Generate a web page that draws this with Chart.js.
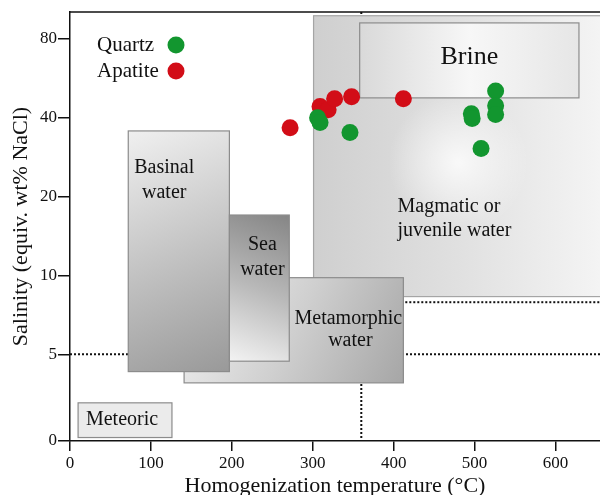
<!DOCTYPE html>
<html>
<head>
<meta charset="utf-8">
<script src="https://cdn.jsdelivr.net/npm/chart.js@4.4.0/dist/chart.umd.min.js"></script>
<style>
  html, body { margin: 0; padding: 0; background: #fff; overflow: hidden; }
  canvas { display: block; }
</style>
</head>
<body>
<canvas id="chart" width="600" height="495"></canvas>
<script>
// fluid inclusion data (temp in C, salinity in wt% NaCl)
const quartzTemp = [306, 309, 346, 496, 497, 526, 526, 526, 508];
const quartzSal = [40.0, 38.3, 35.1, 41.4, 39.7, 50.6, 44.4, 41.1, 30.5];
const apatiteTemp = [272, 309, 319, 327, 348, 412];
const apatiteSal = [36.6, 44.1, 42.9, 47.2, 48.1, 47.2];

// fluid source fields
const fieldNames = ['Magmatic', 'Brine', 'Metamorphic', 'Basinal', 'Sea', 'Meteoric'];
const fieldTmin = [301, 358, 141, 72, 197, 10];
const fieldTmax = [700, 629, 412, 197, 271, 126];
const fieldSmin = [8.3, 47.6, 3.35, 4.0, 4.6, 0.2];
const fieldSmax = [98, 92, 9.8, 35.6, 17, 2.2];

// dotted guide lines
const guideTemp = [360];
const guideSal = [5, 7.9];
const guideSalFrom = [0, 360];

const tempTicks = [0, 100, 200, 300, 400, 500, 600];
const salTicks = [0, 5, 10, 20, 40, 80];

const serif = "'Liberation Serif', 'Times New Roman', serif";

// salinity axis is linear up to 5 then doubles every step
function lvl(s) {
  return s <= 5 ? s / 5 * 1.1 : 1.1 + Math.log2(s / 5);
}

const look = {
  Magmatic: { dir: 'h', stops: ['#cfcfcf', '#e0e0e0', '#f4f4f4'], edge: '#a5a5a5' },
  Brine: { dir: 'h', stops: ['#d9d9d9', '#f7f7f7', '#e6e6e6'], edge: '#8c8c8c' },
  Metamorphic: { dir: 'd', stops: ['#f2f2f2', '#cfcfcf', '#a6a6a6'], edge: '#8c8c8c' },
  Basinal: { dir: 'd', stops: ['#f0f0f0', '#c4c4c4', '#999999'], edge: '#8c8c8c' },
  Sea: { dir: 'u', stops: ['#f3f3f3', '#b8b8b8', '#858585'], edge: '#8c8c8c' },
  Meteoric: { dir: 'h', stops: ['#ebebeb', '#ebebeb', '#ebebeb'], edge: '#8c8c8c' }
};

// text inside each field, placed from the field's pixel box
const labels = {
  Magmatic: { size: 20, align: 'left', at: r => [[r.l + 84, r.t + 191], [r.l + 84, r.t + 215]], text: ['Magmatic or', 'juvenile water'] },
  Brine: { size: 26, align: 'center', at: r => [[(r.l + r.r) / 2, r.t + 34]], text: ['Brine'] },
  Metamorphic: { size: 20, align: 'center', at: r => [[r.r - 55, r.t + 41], [r.r - 53, r.t + 63]], text: ['Metamorphic', 'water'] },
  Basinal: { size: 20, align: 'center', at: r => [[r.l + 36, r.t + 37], [r.l + 36, r.t + 62]], text: ['Basinal', 'water'] },
  Sea: { size: 20, align: 'center', at: r => [[(r.l + r.r) / 2 + 3, r.t + 30], [(r.l + r.r) / 2 + 3, r.t + 55]], text: ['Sea', 'water'] },
  Meteoric: { size: 20, align: 'center', at: r => [[(r.l + r.r) / 2 - 3, (r.t + r.b) / 2]], text: ['Meteoric'] }
};

const fieldPlugin = {
  id: 'fields',
  beforeDatasetsDraw(chart) {
    const { ctx, chartArea: a, scales: { x, y } } = chart;
    ctx.save();
    ctx.beginPath();
    ctx.rect(a.left, a.top - 1, a.right - a.left, a.bottom - a.top + 1);
    ctx.clip();

    // dotted guides behind everything
    ctx.setLineDash([2, 2]);
    ctx.lineWidth = 2;
    ctx.strokeStyle = '#111';
    guideTemp.forEach(t => {
      const px = x.getPixelForValue(t);
      ctx.beginPath(); ctx.moveTo(px, a.top); ctx.lineTo(px, a.bottom); ctx.stroke();
    });
    guideSal.forEach((s, i) => {
      const py = y.getPixelForValue(lvl(s));
      ctx.beginPath(); ctx.moveTo(x.getPixelForValue(guideSalFrom[i]), py); ctx.lineTo(a.right, py); ctx.stroke();
    });
    ctx.setLineDash([]);

    fieldNames.forEach((name, i) => {
      const r = {
        l: x.getPixelForValue(fieldTmin[i]), r: x.getPixelForValue(fieldTmax[i]),
        t: y.getPixelForValue(lvl(fieldSmax[i])), b: y.getPixelForValue(lvl(fieldSmin[i]))
      };
      const st = look[name];
      let g;
      if (st.dir === 'h') g = ctx.createLinearGradient(r.l, 0, Math.min(r.r, a.right), 0);
      else if (st.dir === 'd') g = ctx.createLinearGradient(r.l, r.t, r.r, r.b);
      else g = ctx.createLinearGradient(r.l, r.b, r.r, r.t);
      st.stops.forEach((c, k) => g.addColorStop(k / (st.stops.length - 1), c));
      ctx.fillStyle = g;
      ctx.fillRect(r.l, r.t, r.r - r.l, r.b - r.t);
      if (name === 'Magmatic') {
        // soft highlight in the middle of the field
        const cx = x.getPixelForValue(480), cy = y.getPixelForValue(lvl(27));
        const rg = ctx.createRadialGradient(cx, cy, 0, cx, cy, 70);
        rg.addColorStop(0, 'rgba(255,255,255,0.8)');
        rg.addColorStop(1, 'rgba(255,255,255,0)');
        ctx.fillStyle = rg;
        ctx.fillRect(r.l, r.t, r.r - r.l, r.b - r.t);
      }
      ctx.lineWidth = 1.2;
      ctx.strokeStyle = st.edge;
      ctx.strokeRect(r.l, r.t, r.r - r.l, r.b - r.t);

      const lb = labels[name];
      ctx.fillStyle = '#111';
      ctx.font = lb.size + 'px ' + serif;
      ctx.textAlign = lb.align;
      ctx.textBaseline = 'middle';
      lb.at(r).forEach((p, k) => ctx.fillText(lb.text[k], p[0], p[1]));
    });
    ctx.restore();
  },
  afterDraw(chart) {
    const { ctx, chartArea: a } = chart;
    ctx.save();
    // top frame line
    ctx.strokeStyle = '#111';
    ctx.lineWidth = 1.5;
    ctx.beginPath(); ctx.moveTo(a.left, a.top); ctx.lineTo(a.right, a.top); ctx.stroke();

    // legend: name then dot
    chart.data.datasets.forEach((ds, i) => {
      const yy = a.top + 33 + i * 26;
      ctx.font = '21px ' + serif;
      ctx.fillStyle = '#111';
      ctx.textAlign = 'left';
      ctx.textBaseline = 'middle';
      ctx.fillText(ds.label, a.left + 27, yy);
      ctx.beginPath();
      ctx.arc(a.left + 106, yy, 8.5, 0, Math.PI * 2);
      ctx.fillStyle = ds.backgroundColor;
      ctx.fill();
    });
    ctx.restore();
  }
};

const ctx = document.getElementById('chart').getContext('2d');
new Chart(ctx, {
  type: 'scatter',
  data: {
    datasets: [
      {
        label: 'Quartz',
        data: quartzTemp.map((t, i) => ({ x: t, y: lvl(quartzSal[i]) })),
        backgroundColor: '#12962f',
        pointRadius: 8.5,
        borderWidth: 0
      },
      {
        label: 'Apatite',
        data: apatiteTemp.map((t, i) => ({ x: t, y: lvl(apatiteSal[i]) })),
        backgroundColor: '#d20d17',
        pointRadius: 8.5,
        borderWidth: 0
      }
    ]
  },
  options: {
    responsive: false,
    animation: false,
    layout: { autoPadding: false, padding: { top: 12, right: 0, left: 0, bottom: 0 } },
    plugins: { legend: { display: false }, tooltip: { enabled: false } },
    scales: {
      x: {
        type: 'linear',
        min: 0,
        max: 655,
        afterBuildTicks: s => { s.ticks = tempTicks.map(v => ({ value: v })); },
        afterFit: s => { s.height = 54; s.paddingRight = 0; s.paddingLeft = 0; },
        grid: { drawOnChartArea: false, drawTicks: true, tickLength: 10, tickColor: '#111', lineWidth: 1.5 },
        border: { color: '#111', width: 1.5 },
        ticks: { color: '#111', font: { family: serif, size: 17 }, padding: 2, maxRotation: 0 },
        title: { display: true, text: 'Homogenization temperature (\u00B0C)', color: '#111', font: { family: serif, size: 22, lineHeight: 1 }, padding: { top: 0, bottom: -2 } }
      },
      y: {
        type: 'linear',
        min: 0,
        max: 5.44,
        afterBuildTicks: s => { s.ticks = salTicks.map(v => ({ value: lvl(v) })); },
        afterFit: s => { s.width = 70; s.paddingTop = 0; s.paddingBottom = 0; },
        grid: { drawOnChartArea: false, drawTicks: true, tickLength: 12, tickColor: '#111', lineWidth: 1.5 },
        border: { color: '#111', width: 1.5 },
        ticks: { color: '#111', font: { family: serif, size: 17 }, padding: 1, callback: (v, i) => salTicks[i] },
        title: { display: true, text: 'Salinity (equiv. wt% NaCl)', color: '#111', font: { family: serif, size: 22, lineHeight: 1 }, padding: { top: 10, bottom: 0 } }
      }
    }
  },
  plugins: [fieldPlugin]
});
</script>
</body>
</html>
